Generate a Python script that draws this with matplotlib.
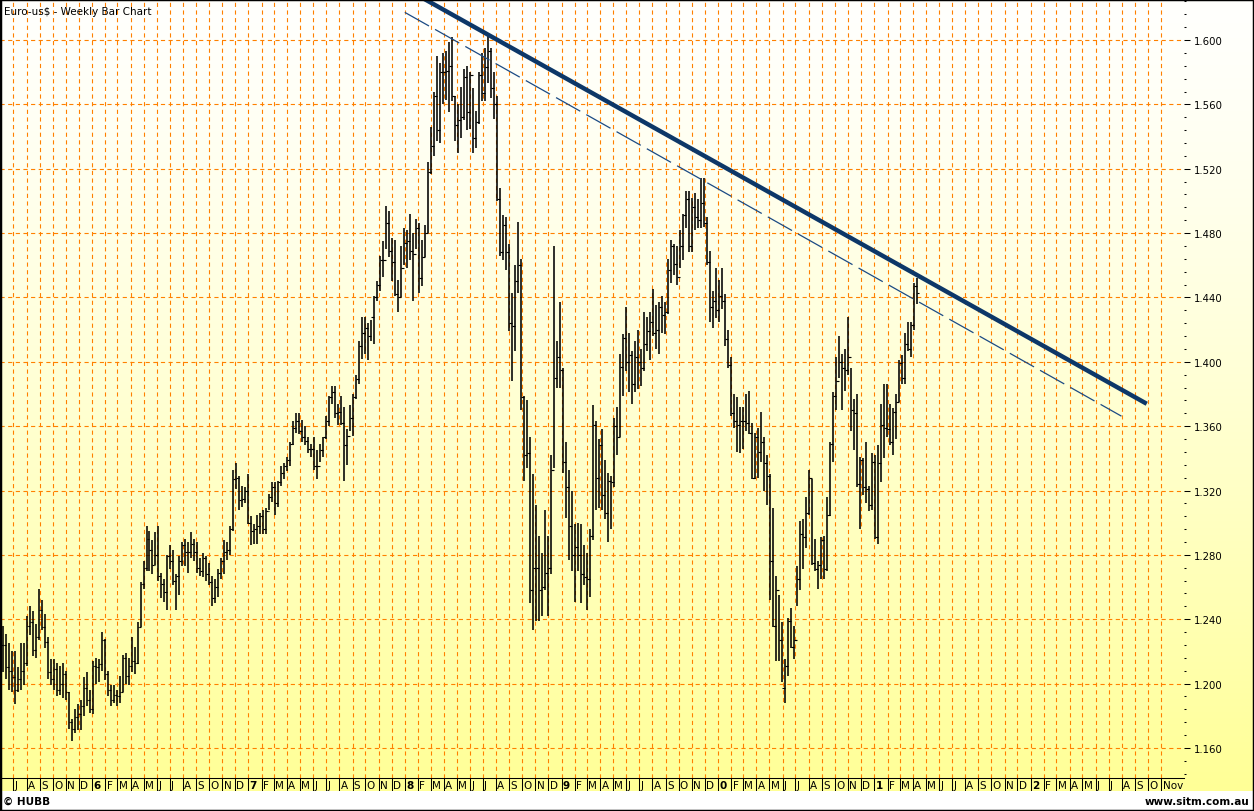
import numpy as np
import pandas as pd
import matplotlib
matplotlib.use('Agg')
import matplotlib.pyplot as plt
import matplotlib.dates as mdates
from matplotlib.patches import Rectangle

plt.rcParams['font.family'] = ['DejaVu Sans']
plt.rcParams['lines.scale_dashes'] = False

# weekly bars, first week starting 2005-06-06
first_week = '2005-06-06'

highs = [
    # 2005
    1.2360, 1.2310, 1.2250, 1.2200, 1.2200, 1.2100, 1.2250, 1.2250,
    1.2420, 1.2480, 1.2450, 1.2370, 1.2585, 1.2520, 1.2430, 1.2290, 1.2150,
    1.2150, 1.2130, 1.2110, 1.2130, 1.2080, 1.1950, 1.1780, 1.1840, 1.1870,
    1.1900, 1.2040, 1.2070, 1.1960,
    # 2006
    1.2140, 1.2160, 1.2150, 1.2320, 1.2280, 1.2080, 1.1990, 1.1990, 1.1960,
    1.2050, 1.2180, 1.2190, 1.2160, 1.2290, 1.2230, 1.2380, 1.2630,
    1.2760, 1.2980, 1.2950, 1.2890, 1.2940, 1.2980, 1.2690, 1.2650, 1.2800,
    1.2860, 1.2830, 1.2680, 1.2790, 1.2880, 1.2900, 1.2880, 1.2940, 1.2900,
    1.2880, 1.2780, 1.2810, 1.2790, 1.2750, 1.2670, 1.2650, 1.2710, 1.2780,
    1.2890, 1.2880, 1.2980, 1.3330, 1.3370, 1.3290, 1.3230, 1.3220,
    # 2007
    1.3300, 1.3040, 1.2990, 1.3050, 1.3060, 1.3080, 1.3090, 1.3180, 1.3250,
    1.3250, 1.3260, 1.3350, 1.3370, 1.3410, 1.3500, 1.3630, 1.3680, 1.3680,
    1.3640, 1.3600, 1.3530, 1.3490, 1.3530, 1.3450, 1.3490, 1.3530,
    1.3660, 1.3790, 1.3850, 1.3850, 1.3740, 1.3790, 1.3720, 1.3580, 1.3730,
    1.3800, 1.3920, 1.4130, 1.4280, 1.4280, 1.4240, 1.4260, 1.4410, 1.4500,
    1.4660, 1.4750, 1.4970, 1.4940, 1.4770, 1.4760, 1.4510, 1.4720, 1.4830,
    # 2008
    1.4820, 1.4920, 1.4800, 1.4890, 1.4860, 1.4760, 1.4850, 1.5240,
    1.5460, 1.5680, 1.5900, 1.5860, 1.5920, 1.5930, 1.5990, 1.6020, 1.5650,
    1.5600, 1.5710, 1.5820, 1.5840, 1.5800, 1.5700, 1.5560, 1.5800, 1.5920,
    1.5950, 1.6040, 1.5950, 1.5800, 1.5650, 1.5080, 1.4910, 1.4900,
    1.4730, 1.4430, 1.4600, 1.4870, 1.4640, 1.3790, 1.3760, 1.3530, 1.3300,
    1.3110, 1.2920, 1.2810, 1.3080, 1.2920, 1.3420, 1.4720, 1.4130, 1.4370,
    # 2009
    1.3960, 1.3500, 1.3330, 1.3200, 1.2990, 1.3000, 1.2990, 1.2860,
    1.2810, 1.2960, 1.3730, 1.3630, 1.3520, 1.3580, 1.3390, 1.3310, 1.3290,
    1.3650, 1.3720, 1.4050, 1.4170, 1.4340, 1.4180, 1.4070, 1.4130, 1.4200,
    1.4080, 1.4310, 1.4280, 1.4310, 1.4450, 1.4350, 1.4370, 1.4410, 1.4370,
    1.4640, 1.4760, 1.4730, 1.4720, 1.4820, 1.4920, 1.5060, 1.5060,
    1.5020, 1.5050, 1.5010, 1.5140, 1.5140, 1.4900, 1.4690, 1.4440, 1.4580,
    # 2010
    1.4510, 1.4580, 1.4420, 1.4200, 1.4030, 1.3800, 1.3780, 1.3720,
    1.3720, 1.3800, 1.3820, 1.3620, 1.3560, 1.3590, 1.3690, 1.3530, 1.3420,
    1.3300, 1.3090, 1.2670, 1.2550, 1.2380, 1.2150, 1.2410, 1.2470, 1.2360,
    1.2730, 1.3010, 1.3020, 1.3160, 1.3330, 1.3270, 1.2900, 1.2760, 1.2910,
    1.2920, 1.3160, 1.3500, 1.3810, 1.4030, 1.4160, 1.4050, 1.4080,
    1.4280, 1.3960, 1.3770, 1.3800, 1.3410, 1.3400, 1.3500, 1.3230, 1.3430,
    # 2011
    1.3420, 1.3480, 1.3740, 1.3860, 1.3860, 1.3740, 1.3710, 1.3800, 1.4010,
    1.4040, 1.4180, 1.4250, 1.4250, 1.4490, 1.4520,
]

lows = [
    # 2005
    1.2070, 1.2030, 1.1960, 1.1950, 1.1870, 1.1950, 1.1960, 1.1990,
    1.2110, 1.2300, 1.2170, 1.2160, 1.2270, 1.2330, 1.2220, 1.2030, 1.1990,
    1.1960, 1.1920, 1.1930, 1.1910, 1.1900, 1.1720, 1.1640, 1.1690, 1.1710,
    1.1710, 1.1800, 1.1860, 1.1820,
    # 2006
    1.1810, 1.2000, 1.2010, 1.2080, 1.2020, 1.1920, 1.1860, 1.1880, 1.1860,
    1.1880, 1.1950, 1.2000, 1.1990, 1.2070, 1.2060, 1.2120, 1.2350,
    1.2590, 1.2700, 1.2700, 1.2680, 1.2740, 1.2640, 1.2530, 1.2510, 1.2460,
    1.2710, 1.2610, 1.2460, 1.2550, 1.2730, 1.2730, 1.2690, 1.2780, 1.2760,
    1.2690, 1.2670, 1.2660, 1.2640, 1.2610, 1.2480, 1.2500, 1.2540, 1.2650,
    1.2680, 1.2770, 1.2800, 1.2950, 1.3210, 1.3080, 1.3100, 1.3120,
    # 2007
    1.2990, 1.2860, 1.2870, 1.2870, 1.2930, 1.2930, 1.2930, 1.3080, 1.3130,
    1.3050, 1.3100, 1.3230, 1.3270, 1.3320, 1.3350, 1.3480, 1.3560, 1.3550,
    1.3500, 1.3480, 1.3430, 1.3410, 1.3330, 1.3270, 1.3380, 1.3410,
    1.3520, 1.3600, 1.3740, 1.3650, 1.3610, 1.3610, 1.3260, 1.3360, 1.3570,
    1.3540, 1.3770, 1.3860, 1.4020, 1.4050, 1.4010, 1.4130, 1.4110, 1.4380,
    1.4440, 1.4530, 1.4700, 1.4650, 1.4500, 1.4410, 1.4310, 1.4400, 1.4600,
    # 2008
    1.4580, 1.4630, 1.4380, 1.4700, 1.4430, 1.4470, 1.4650, 1.4800,
    1.5170, 1.5280, 1.5370, 1.5360, 1.5600, 1.5630, 1.5550, 1.5620, 1.5370,
    1.5300, 1.5390, 1.5500, 1.5440, 1.5450, 1.5300, 1.5330, 1.5480, 1.5620,
    1.5620, 1.5730, 1.5640, 1.5510, 1.5000, 1.4660, 1.4630, 1.4570,
    1.4190, 1.3880, 1.4070, 1.4430, 1.3700, 1.3260, 1.3340, 1.2500, 1.2330,
    1.2390, 1.2390, 1.2420, 1.2580, 1.2420, 1.2680, 1.3340, 1.3840, 1.3840,
    # 2009
    1.3310, 1.3030, 1.2770, 1.2700, 1.2510, 1.2700, 1.2500, 1.2610,
    1.2460, 1.2540, 1.2890, 1.3080, 1.3090, 1.3080, 1.3020, 1.2880, 1.2960,
    1.3220, 1.3420, 1.3530, 1.3790, 1.3940, 1.3810, 1.3740, 1.3810, 1.3830,
    1.3850, 1.3940, 1.4070, 1.4010, 1.4160, 1.4080, 1.4050, 1.4180, 1.4170,
    1.4300, 1.4490, 1.4540, 1.4480, 1.4580, 1.4630, 1.4830, 1.4680,
    1.4680, 1.4820, 1.4830, 1.4830, 1.4840, 1.4600, 1.4250, 1.4210, 1.4270,
    # 2010
    1.4250, 1.4330, 1.4100, 1.3960, 1.3660, 1.3590, 1.3440, 1.3430,
    1.3460, 1.3570, 1.3550, 1.3270, 1.3270, 1.3280, 1.3380, 1.3200, 1.3110,
    1.2520, 1.2350, 1.2140, 1.2140, 1.2010, 1.1880, 1.2050, 1.2220, 1.2150,
    1.2480, 1.2580, 1.2710, 1.2840, 1.3050, 1.2740, 1.2700, 1.2590, 1.2650,
    1.2650, 1.2700, 1.3040, 1.3380, 1.3700, 1.3900, 1.3700, 1.3820,
    1.3920, 1.3570, 1.3450, 1.3220, 1.2960, 1.3170, 1.3120, 1.3070, 1.3080,
    # 2011
    1.2900, 1.2870, 1.3250, 1.3400, 1.3530, 1.3480, 1.3420, 1.3520, 1.3750,
    1.3860, 1.3860, 1.4070, 1.4030, 1.4200, 1.4360,
]

closes = [
    # 2005
    1.2240, 1.2100, 1.2080, 1.2040, 1.1960, 1.2030, 1.2080, 1.2130,
    1.2360, 1.2380, 1.2210, 1.2290, 1.2460, 1.2350, 1.2260, 1.2070, 1.2030,
    1.2090, 1.1960, 1.2000, 1.2060, 1.1950, 1.1760, 1.1720, 1.1790, 1.1810,
    1.1860, 1.1970, 1.1900, 1.1840,
    # 2006
    1.2110, 1.2100, 1.2120, 1.2270, 1.2060, 1.1960, 1.1900, 1.1930, 1.1920,
    1.1950, 1.2160, 1.2050, 1.2110, 1.2140, 1.2130, 1.2350, 1.2620,
    1.2720, 1.2900, 1.2830, 1.2740, 1.2800, 1.2670, 1.2620, 1.2570, 1.2790,
    1.2760, 1.2640, 1.2670, 1.2760, 1.2860, 1.2820, 1.2820, 1.2870, 1.2820,
    1.2720, 1.2700, 1.2780, 1.2680, 1.2630, 1.2530, 1.2600, 1.2690, 1.2760,
    1.2820, 1.2830, 1.2960, 1.3270, 1.3280, 1.3140, 1.3150, 1.3200,
    # 2007
    1.3000, 1.2950, 1.2960, 1.2980, 1.3040, 1.2960, 1.3070, 1.3160, 1.3220,
    1.3120, 1.3250, 1.3310, 1.3350, 1.3390, 1.3490, 1.3590, 1.3630, 1.3570,
    1.3530, 1.3510, 1.3460, 1.3460, 1.3350, 1.3350, 1.3450, 1.3530,
    1.3630, 1.3780, 1.3810, 1.3680, 1.3690, 1.3620, 1.3480, 1.3540, 1.3650,
    1.3780, 1.3890, 1.4100, 1.4180, 1.4210, 1.4160, 1.4280, 1.4400, 1.4480,
    1.4630, 1.4630, 1.4860, 1.4690, 1.4620, 1.4420, 1.4400, 1.4580, 1.4740,
    # 2008
    1.4750, 1.4690, 1.4670, 1.4830, 1.4520, 1.4650, 1.4800, 1.5180,
    1.5340, 1.5650, 1.5440, 1.5800, 1.5800, 1.5810, 1.5840, 1.5650, 1.5470,
    1.5500, 1.5520, 1.5770, 1.5550, 1.5780, 1.5390, 1.5490, 1.5780, 1.5670,
    1.5830, 1.5930, 1.5700, 1.5600, 1.5010, 1.4680, 1.4850, 1.4680,
    1.4240, 1.4220, 1.4500, 1.4600, 1.3780, 1.3420, 1.3430, 1.2580, 1.2720,
    1.2720, 1.2580, 1.2600, 1.2690, 1.2720, 1.3330, 1.3900, 1.4030, 1.3950,
    # 2009
    1.3380, 1.3220, 1.2980, 1.2800, 1.2850, 1.2800, 1.2680, 1.2660,
    1.2650, 1.2920, 1.3610, 1.3280, 1.3480, 1.3170, 1.3060, 1.3260, 1.3250,
    1.3600, 1.3530, 1.3970, 1.4150, 1.4000, 1.4040, 1.3860, 1.4030, 1.4000,
    1.3960, 1.4110, 1.4190, 1.4250, 1.4180, 1.4200, 1.4340, 1.4290, 1.4310,
    1.4570, 1.4720, 1.4610, 1.4530, 1.4720, 1.4910, 1.5010, 1.4720,
    1.4960, 1.4900, 1.4880, 1.4990, 1.4860, 1.4620, 1.4340, 1.4380, 1.4320,
    # 2010
    1.4410, 1.4380, 1.4140, 1.3980, 1.3680, 1.3630, 1.3610, 1.3630,
    1.3630, 1.3620, 1.3560, 1.3280, 1.3530, 1.3440, 1.3500, 1.3370, 1.3290,
    1.2760, 1.2360, 1.2580, 1.2270, 1.1970, 1.2110, 1.2390, 1.2230, 1.2270,
    1.2650, 1.2930, 1.2910, 1.3060, 1.3280, 1.2750, 1.2710, 1.2740, 1.2890,
    1.2710, 1.3050, 1.3490, 1.3790, 1.3880, 1.4000, 1.3960, 1.3950,
    1.4030, 1.3700, 1.3680, 1.3240, 1.3390, 1.3220, 1.3210, 1.3110, 1.3380,
    # 2011
    1.2910, 1.3370, 1.3610, 1.3590, 1.3580, 1.3500, 1.3690, 1.3750, 1.3990,
    1.3900, 1.4110, 1.4080, 1.4230, 1.4470, 1.4430,
]

# trend lines (date, price) end points
trend_dates = ['2008-02-15', '2012-09-28']
trend_prices = [1.6256, 1.3739]
channel_dates = ['2008-01-01', '2012-07-31']
channel_prices = [1.6172, 1.3662]

price_ticks = [1.160, 1.200, 1.240, 1.280, 1.320, 1.360, 1.400,
               1.440, 1.480, 1.520, 1.560, 1.600]
month_initials = ['J', 'F', 'M', 'A', 'M', 'J', 'J', 'A', 'S', 'O', 'N', 'D']

W, H = 1254, 812
fig = plt.figure(figsize=(W / 100, H / 100), dpi=100)
fig.patch.set_facecolor('white')

# yellow gradient behind everything
bg = fig.add_axes([0, 20 / H, 1, 792 / H])
g = np.linspace(0, 1, 300)[:, None, None] ** 1.3
top = np.array([255, 255, 253]) / 255
bot = np.array([255, 255, 150]) / 255
bg.imshow(top + (bot - top) * g, aspect='auto', extent=[0, 1, 0, 1], origin='upper')
bg.set_axis_off()

x0 = mdates.date2num(pd.Timestamp('2005-05-31'))
x1 = mdates.date2num(pd.Timestamp('2012-12-24'))

ax = fig.add_axes([0, 33 / H, 1184 / W, 779 / H])
ax.set_facecolor('none')
ax.set_xlim(x0, x1)
ax.set_ylim(1.1413, 1.6255)

grid_c = '#FF8000'
months = pd.date_range('2005-07-01', '2012-11-01', freq='MS')
for m in months:
    ln = ax.axvline(mdates.date2num(m), color=grid_c, lw=0.8, dashes=(3, 2.5), zorder=1)
    ln.set_snap(True)
for p in price_ticks:
    ln = ax.axhline(p, color=grid_c, lw=0.8, dashes=(3, 2.5), zorder=1)
    ln.set_snap(True)

dates = mdates.date2num(pd.date_range(first_week, periods=len(closes), freq='7D'))
opens = [closes[0]] + closes[:-1]
ax.vlines(dates, lows, highs, color='black', lw=1.15, zorder=3)
ax.hlines(closes, dates, dates + 4.5, color='black', lw=0.8, zorder=3)
ax.hlines(opens, dates - 4.5, dates, color='black', lw=0.8, zorder=3)

td = mdates.date2num(pd.to_datetime(trend_dates))
cd = mdates.date2num(pd.to_datetime(channel_dates))
ax.plot(td, trend_prices, color='#0d3768', lw=3.2, solid_capstyle='butt', zorder=4)
ax.plot(cd, channel_prices, color='#1b4a84', lw=0.9, dashes=(20, 5), zorder=4)

ax.yaxis.tick_right()
ax.set_yticks(price_ticks)
ax.set_yticklabels([f'{p:.3f}' for p in price_ticks], fontsize=7.3)
ax.set_yticks(np.arange(1.144, 1.625, 0.008), minor=True)
ax.tick_params(axis='y', which='major', length=4.3, width=0.75, pad=3, direction='out')
ax.tick_params(axis='y', which='minor', length=1.6, width=0.75, direction='out')
ax.tick_params(axis='x', which='both', length=0, labelbottom=False)
for s in ['top', 'left', 'right']:
    ax.spines[s].set_visible(False)
ax.spines['bottom'].set_linewidth(0.75)

# month label row
lab = fig.add_axes([0, 20 / H, 1184 / W, 13 / H])
lab.set_xlim(x0, x1)
lab.set_ylim(0, 1)
lab.set_axis_off()
for i, m in enumerate(months):
    mx = mdates.date2num(m)
    lab.vlines(mx, 0, 1, color='black', lw=0.75)
    weight = 'normal'
    if i == len(months) - 1:
        txt = 'Nov'
    elif m.month == 1:
        txt = str(m.year % 10)
        weight = 'bold'
    else:
        txt = month_initials[m.month - 1]
    lab.text(mx + 3, 0.45, txt, fontsize=7.5, va='center', ha='left', fontweight=weight)

fig.text(4 / W, 1 - 12 / H, 'Euro-us$ - Weekly Bar Chart', fontsize=7.5,
         va='center', ha='left', parse_math=False)
fig.text(3 / W, 10 / H, '\u00a9 HUBB', fontsize=7.5, fontweight='bold', va='center', ha='left')
fig.text(1249 / W, 10 / H, 'www.sitm.com.au', fontsize=7.5, fontweight='bold',
         va='center', ha='right')

fig.add_artist(Rectangle((0, 0), 1, 1, transform=fig.transFigure, fill=False,
                         ec='black', lw=2.5))

plt.savefig('out.png', dpi=100)
